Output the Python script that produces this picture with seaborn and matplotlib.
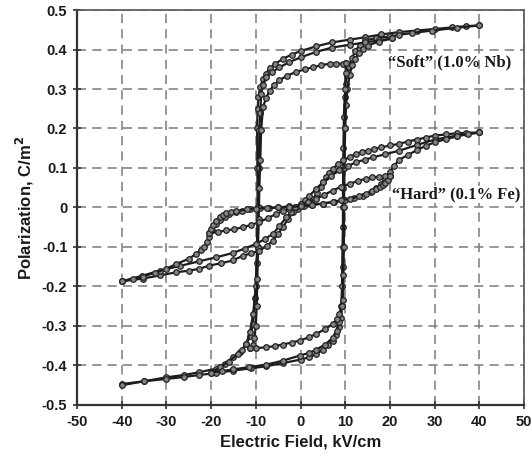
import matplotlib
matplotlib.use("Agg")
import matplotlib.pyplot as plt
import seaborn as sns
import pandas as pd
from matplotlib.ticker import FixedLocator, FixedFormatter

# ---------------- data ----------------
# Soft PZT (1.0% Nb), 40 kV/cm loop
soft40_desc_E = [40, 37, 34, 30, 26, 22, 18, 14.5, 11, 7.1, 3.5, 0, -2, -4, -5.6, -6.9, -7.8, -8.4, -9.0, -9.4, -9.6, -9.7, -9.65, -9.6, -9.8, -10.2, -10.6, -11.2, -12.1, -13.5, -15.1, -17, -18.9, -22.6, -26, -30, -35, -40]
soft40_desc_P = [0.461, 0.459, 0.456, 0.452, 0.448, 0.444, 0.438, 0.431, 0.425, 0.418, 0.408, 0.396, 0.387, 0.376, 0.364, 0.352, 0.338, 0.325, 0.305, 0.28, 0.25, 0.2, 0.1, 0.0, -0.14, -0.23, -0.295, -0.325, -0.345, -0.365, -0.379, -0.395, -0.408, -0.417, -0.424, -0.43, -0.44, -0.447]
soft40_asc_E = [-40, -35, -30, -26, -22.6, -19, -15.1, -11, -7.7, -4, 0, 2, 3.5, 5, 6.2, 7.2, 8, 8.7, 9.1, 9.3, 9.4, 9.5, 9.5, 9.6, 9.7, 9.9, 10.1, 10.4, 10.8, 11.5, 12.3, 13.3, 14.5, 17, 20, 22, 25, 29.5, 35, 40]
soft40_asc_P = [-0.45, -0.44, -0.434, -0.429, -0.424, -0.419, -0.413, -0.407, -0.402, -0.394, -0.385, -0.379, -0.371, -0.36, -0.349, -0.337, -0.322, -0.303, -0.28, -0.25, -0.15, -0.05, 0.05, 0.15, 0.229, 0.28, 0.313, 0.336, 0.355, 0.378, 0.397, 0.412, 0.423, 0.429, 0.433, 0.437, 0.442, 0.448, 0.455, 0.461]

# Soft, 20 kV/cm loop
soft20_desc_E = [20.5, 17.5, 14.5, 11, 7.1, 3.5, 0, -2.5, -4.7, -6.3, -7.7, -8.4, -8.8, -9.0, -9.2, -9.3, -9.4, -9.6, -10.0, -10.6, -11.3, -12.1, -13, -14, -16, -18.1, -20]
soft20_desc_P = [0.428, 0.423, 0.418, 0.412, 0.405, 0.394, 0.38, 0.368, 0.355, 0.343, 0.33, 0.31, 0.288, 0.24, 0.195, 0.1, 0.0, -0.1, -0.2, -0.27, -0.315, -0.345, -0.36, -0.37, -0.39, -0.405, -0.418]
soft20_asc_E = [-20, -17.5, -15.1, -11.5, -7.7, -4, -0.2, 2, 3.5, 5.5, 7.2, 8.1, 8.7, 9.1, 9.3, 9.45, 9.6, 9.8, 10.0, 10.2, 10.5, 11, 11.5, 12.2, 13, 14, 15, 17.5, 20.5]
soft20_asc_P = [-0.418, -0.414, -0.41, -0.404, -0.398, -0.388, -0.375, -0.368, -0.36, -0.347, -0.33, -0.312, -0.29, -0.25, -0.2, -0.1, 0.0, 0.1, 0.2, 0.26, 0.3, 0.335, 0.36, 0.377, 0.39, 0.401, 0.41, 0.42, 0.428]

# Soft, 10 kV/cm loop
soft10_desc_E = [10.2, 9.5, 8, 6.5, 4.5, 2.8, 1, -1, -3, -4.7, -5.9, -6.9, -7.7, -8.4, -8.8, -9.0, -9.2, -9.35, -9.5, -9.65, -9.8, -10.0, -10.3, -10.7, -11.2]
soft10_desc_P = [0.365, 0.364, 0.364, 0.364, 0.36, 0.355, 0.35, 0.343, 0.334, 0.322, 0.31, 0.296, 0.277, 0.254, 0.195, 0.12, 0.05, -0.03, -0.1, -0.18, -0.25, -0.3, -0.33, -0.347, -0.355]
soft10_asc_E = [-11.2, -10, -7.7, -5.8, -4, -2, -0.2, 1.8, 3.5, 5.5, 7.2, 8.1, 8.7, 9.2, 9.5, 9.6, 9.7, 9.75, 9.8, 9.9, 10.0, 10.1, 10.2]
soft10_asc_P = [-0.355, -0.356, -0.354, -0.351, -0.347, -0.342, -0.337, -0.329, -0.32, -0.308, -0.295, -0.283, -0.269, -0.25, -0.235, -0.17, -0.1, 0.0, 0.1, 0.2, 0.3, 0.34, 0.365]

# Hard PZT (0.1% Fe), 40 kV/cm loop (two descending traces)
hard40_descA_E = [40, 37, 35, 32.5, 30, 28, 26, 24, 22, 20, 18, 16.5, 15, 13.7, 12.5, 11, 9.5, 8.3, 7.2, 6.4, 5.7, 5.1, 4.6, 3.7, 2.8, 1.8, 0.8, -0.5, -1.7, -2.8, -4, -5, -6.2, -7.6, -9.2, -11, -12.9, -15.1, -17.7, -20.4, -22.6, -25, -27.8, -31.5, -35.3, -40]
hard40_descA_P = [0.19, 0.189, 0.188, 0.185, 0.182, 0.177, 0.172, 0.167, 0.161, 0.157, 0.152, 0.148, 0.144, 0.14, 0.136, 0.128, 0.119, 0.109, 0.098, 0.088, 0.077, 0.064, 0.051, 0.036, 0.022, 0.012, 0.004, -0.003, -0.012, -0.03, -0.05, -0.067, -0.084, -0.098, -0.109, -0.116, -0.122, -0.134, -0.141, -0.147, -0.155, -0.16, -0.164, -0.172, -0.18, -0.187]
hard40_descB_E = [40, 35, 30, 26, 22.1, 19, 16.2, 14.4, 12.5, 10.6, 8.7, 6.8, 5, 3.5, 2, 1, 0, -1, -2.1, -3.2, -4.7, -6.2, -8, -9.9, -12.5, -15.1, -18.8, -22.6, -27, -31.5, -35.5, -40]
hard40_descB_P = [0.19, 0.182, 0.172, 0.158, 0.144, 0.135, 0.127, 0.121, 0.115, 0.105, 0.094, 0.08, 0.064, 0.047, 0.03, 0.018, 0.008, 0.0, -0.012, -0.025, -0.047, -0.067, -0.08, -0.092, -0.104, -0.115, -0.126, -0.136, -0.148, -0.16, -0.173, -0.187]
hard40_asc_E = [-40, -37.5, -35.3, -32.5, -30, -27.8, -25, -23.3, -22.3, -21.5, -20.9, -20.4, -19.7, -18.9, -17.9, -17, -15.9, -14.5, -13, -11.4, -9, -7, -5, -2.5, 0, 2.5, 5, 7.5, 10, 12, 14, 15.7, 17, 18, 18.9, 20, 21, 22, 24, 26, 28, 30, 32.5, 35, 37.5, 40]
hard40_asc_P = [-0.187, -0.181, -0.175, -0.165, -0.155, -0.143, -0.13, -0.117, -0.108, -0.1, -0.088, -0.075, -0.058, -0.041, -0.031, -0.025, -0.016, -0.011, -0.008, -0.004, -0.002, -0.001, 0.0, 0.003, 0.005, 0.007, 0.01, 0.014, 0.018, 0.023, 0.03, 0.04, 0.05, 0.06, 0.072, 0.09, 0.106, 0.12, 0.133, 0.145, 0.156, 0.165, 0.173, 0.18, 0.186, 0.19]

# Hard, 20 kV/cm loop
hard20_desc_E = [20, 18.8, 17.5, 16, 14.7, 12.8, 11, 9, 7.2, 5.3, 3.5, 1.7, 0, -1.2, -2.5, -4, -5.4, -7.3, -9.2, -11, -12.9, -14.8, -16.6, -18.5, -20.4]
hard20_desc_P = [0.08, 0.079, 0.078, 0.076, 0.073, 0.067, 0.06, 0.052, 0.043, 0.032, 0.022, 0.014, 0.008, 0.002, -0.003, -0.009, -0.016, -0.027, -0.037, -0.044, -0.05, -0.055, -0.058, -0.062, -0.065]
hard20_asc_E = [-20.4, -20, -19.5, -18.8, -18.1, -17.3, -16.6, -15.5, -14.4, -12, -9.9, -7.5, -5, -2.5, 0, 2.5, 5, 7.2, 9, 11, 13, 14.7, 16, 17, 17.8, 18.4, 19, 19.5, 20]
hard20_asc_P = [-0.065, -0.055, -0.045, -0.034, -0.025, -0.019, -0.015, -0.012, -0.009, -0.005, -0.003, -0.001, 0.0, 0.001, 0.003, 0.006, 0.01, 0.014, 0.018, 0.022, 0.028, 0.035, 0.041, 0.048, 0.052, 0.056, 0.063, 0.07, 0.08]

x_ticks = [-50, -40, -30, -20, -10, 0, 10, 20, 30, 40, 50]
x_tick_labels = ["-50", "-40", "-30", "-20", "-10", "0", "10", "20", "30", "40", "50"]
y_ticks = [0.5, 0.4, 0.3, 0.2, 0.1, 0.0, -0.1, -0.2, -0.3, -0.4, -0.5]
y_tick_labels = ["0.5", "0.4", "0.3", "0.2", "0.1", "0", "-0.1", "-0.2", "-0.3", "-0.4", "-0.5"]

curves = [
    (soft40_desc_E, soft40_desc_P), (soft40_asc_E, soft40_asc_P),
    (soft20_desc_E, soft20_desc_P), (soft20_asc_E, soft20_asc_P),
    (soft10_desc_E, soft10_desc_P), (soft10_asc_E, soft10_asc_P),
    (hard40_descA_E, hard40_descA_P), (hard40_descB_E, hard40_descB_P),
    (hard40_asc_E, hard40_asc_P),
    (hard20_desc_E, hard20_desc_P), (hard20_asc_E, hard20_asc_P),
]

# ---------------- plot ----------------
sns.set_theme(style="white")
plt.rcParams["font.family"] = ["Liberation Sans", "DejaVu Sans"]

fig = plt.figure(figsize=(5.32, 4.61), dpi=100)
ax = fig.add_axes([0.1447, 0.1215, 0.8403, 0.8568])

for E, P in curves:
    df = pd.DataFrame({"E": E, "P": P})
    sns.lineplot(data=df, x="E", y="P", sort=False, estimator=None, ax=ax,
                 color="#1c1c1c", linewidth=1.6, marker="o", markersize=4.0,
                 markerfacecolor="#858585", markeredgecolor="#222222",
                 markeredgewidth=0.9, legend=False, zorder=3)

ax.set_xlim(-50, 50)
ax.set_ylim(-0.5, 0.5)
ax.xaxis.set_major_locator(FixedLocator(x_ticks))
ax.xaxis.set_major_formatter(FixedFormatter(x_tick_labels))
ax.yaxis.set_major_locator(FixedLocator(y_ticks))
ax.yaxis.set_major_formatter(FixedFormatter(y_tick_labels))

ax.grid(True, linestyle=(0, (6, 4)), color="#7a7a7a", linewidth=1.1)
ax.set_axisbelow(True)

for side in ["left", "bottom"]:
    ax.spines[side].set_color("#333333")
    ax.spines[side].set_linewidth(1.6)
for side in ["top", "right"]:
    ax.spines[side].set_color("#555555")
    ax.spines[side].set_linewidth(1.2)

ax.tick_params(axis="both", direction="inout", length=6, width=1.2,
               color="#333333", labelsize=10.5, pad=4, bottom=True, left=True)
for lab in ax.get_xticklabels() + ax.get_yticklabels():
    lab.set_fontweight("bold")
    lab.set_color("#1a1a1a")

ax.set_xlabel("Electric Field, kV/cm", fontsize=12, fontweight="bold",
              color="#1a1a1a", labelpad=4)
ax.set_ylabel("Polarization, C/m$^\\mathbf{2}$", fontsize=12, fontweight="bold",
              color="#1a1a1a", labelpad=4)

ax.text(33.3, 0.367, "\u201cSoft\u201d (1.0% Nb)", fontsize=12, fontweight="bold",
        family=["Liberation Serif", "DejaVu Serif"], ha="center", va="center",
        color="#1a1a1a", zorder=5)
ax.text(34.8, 0.033, "\u201cHard\u201d (0.1% Fe)", fontsize=12, fontweight="bold",
        family=["Liberation Serif", "DejaVu Serif"], ha="center", va="center",
        color="#1a1a1a", zorder=5,
        bbox=dict(facecolor="white", edgecolor="none", pad=0.5))

fig.savefig("out.png", dpi=100)
